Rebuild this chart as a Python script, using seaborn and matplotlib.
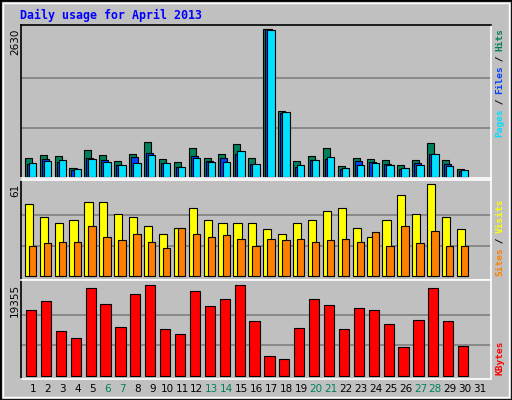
import matplotlib
matplotlib.use("Agg")
import matplotlib.pyplot as plt
import seaborn as sns
import numpy as np

days = list(range(1, 32))
weekend = [6, 7, 13, 14, 20, 21, 27, 28]
hits = [327, 381, 363, 149, 470, 381, 274, 399, 613, 309, 256, 506, 327, 399, 577, 327, 2630, 1166, 274, 363, 506, 184, 327, 309, 292, 202, 292, 595, 292, 131]
files = [220, 309, 256, 113, 327, 292, 202, 345, 416, 238, 167, 363, 274, 327, 399, 220, 2630, 1131, 167, 292, 309, 131, 274, 256, 220, 131, 238, 399, 220, 95]
pages = [238, 274, 292, 131, 309, 256, 202, 238, 381, 238, 167, 327, 256, 256, 452, 220, 2612, 1149, 202, 292, 345, 149, 202, 238, 202, 149, 202, 399, 184, 113]
visits = [48, 39, 35, 37, 49, 49, 41, 39, 33, 28, 32, 45, 37, 35, 35, 35, 31, 28, 35, 37, 43, 45, 32, 26, 37, 54, 41, 61, 39, 31]
sites = [20, 22, 23, 23, 33, 26, 24, 28, 23, 19, 32, 28, 26, 27, 25, 20, 25, 24, 25, 23, 24, 25, 23, 29, 20, 33, 22, 30, 20, 20]
kbytes = [13826, 15740, 9360, 7872, 18717, 15102, 10211, 17440, 19355, 9785, 8722, 18079, 14677, 16166, 19355, 11557, 4042, 3404, 9998, 16166, 14889, 9785, 14251, 13826, 10849, 6168, 11699, 18505, 11557, 6381]

sns.set_theme(style="white")
plt.rcParams['font.family'] = ['DejaVu Sans Mono', 'DejaVu Sans']

BG = "#C0C0C0"
W, H = 512, 400
fig = plt.figure(figsize=(5.12, 4.0), dpi=100, facecolor=BG)

def rect(x0, y0, x1, y1):
    return [x0 / W, 1 - y1 / H, (x1 - x0) / W, (y1 - y0) / H]

fig.add_artist(plt.Rectangle((0, 0), 1, 1, transform=fig.transFigure, fill=False, ec="black", lw=2))
fig.add_artist(plt.Rectangle((3/W, 3/H), 1-6/W, 1-6/H, transform=fig.transFigure, fill=False, ec="white", lw=1))

xl = (0.195, 31.74)
xs = np.array(days[:30])

def setup(ax, ylim, top_black=True):
    ax.set_facecolor(BG)
    ax.set_xlim(*xl)
    ax.set_ylim(*ylim)
    ax.set_xticks([]); ax.set_yticks([])
    for s in ax.spines.values():
        s.set_linewidth(1.2)
    ax.spines['left'].set_color('black')
    ax.spines['top'].set_color('black' if top_black else 'white')
    ax.spines['right'].set_color('white')
    ax.spines['bottom'].set_color('white')

def grid(ax, m):
    for f in (1/3, 2/3):
        ax.axhline(m * f, color="#808080", lw=1.2, zorder=0)

ax1 = fig.add_axes(rect(21, 25, 491, 178))
setup(ax1, (-23, 2707))
grid(ax1, 2630)
kw = dict(align='edge', edgecolor='black', linewidth=0.8, zorder=2)
ax1.bar(xs - 0.55, hits, width=0.47, color="#00805C", **kw)
ax1.bar(xs - 0.42, files, width=0.47, color="#0040FF", **kw)
ax1.bar(xs - 0.28, pages, width=0.5, color="#00E0FF", **kw)

ax2 = fig.add_axes(rect(21, 179.5, 491, 279.5))
setup(ax2, (-2, 63.9), top_black=False)
grid(ax2, 61)
ax2.bar(xs - 0.55, visits, width=0.55, color="#FFFF00", **kw)
ax2.bar(xs - 0.28, sites, width=0.5, color="#FF8000", **kw)

ax3 = fig.add_axes(rect(21, 279.5, 491, 378.5))
setup(ax3, (-638, 20419), top_black=False)
grid(ax3, 19355)
ax3.bar(xs - 0.47, kbytes, width=0.68, color="#FF0000", **kw)

for d in days:
    x = 21 + (d - xl[0]) * 14.9
    fig.text(x / W, 1 - 389 / H, str(d), ha='center', va='center', fontsize=7.5,
             family='DejaVu Sans', color="#00805C" if d in weekend else "black")

fig.text(20 / W, 1 - 15 / H, "Daily usage for April 2013", fontsize=8.4, fontweight='bold',
         color="#0000FF", va='center', ha='left')

for y, t in ((29, "2630"), (184, "61"), (284, "19355")):
    fig.text(15 / W, 1 - y / H, t, rotation=90, ha='center', va='top', fontsize=7.5,
             family='DejaVu Sans', color='black')

def vlabel(pieces, ybottom):
    y = ybottom
    cw = 5.4
    for t, c in pieces:
        fig.text(500 / W, 1 - y / H, t, rotation=90, ha='center', va='bottom', fontsize=6.8,
                 color=c, fontweight='bold')
        y -= cw * len(t)

vlabel([("Pages", "#00E0FF"), (" / ", "black"), ("Files", "#0040FF"), (" / ", "black"), ("Hits", "#00805C")], 137)
vlabel([("Sites", "#FF8000"), (" / ", "black"), ("Visits", "#FFFF00")], 276)
vlabel([("KBytes", "#FF0000")], 375)

fig.savefig("out.png", dpi=100, facecolor=BG)
